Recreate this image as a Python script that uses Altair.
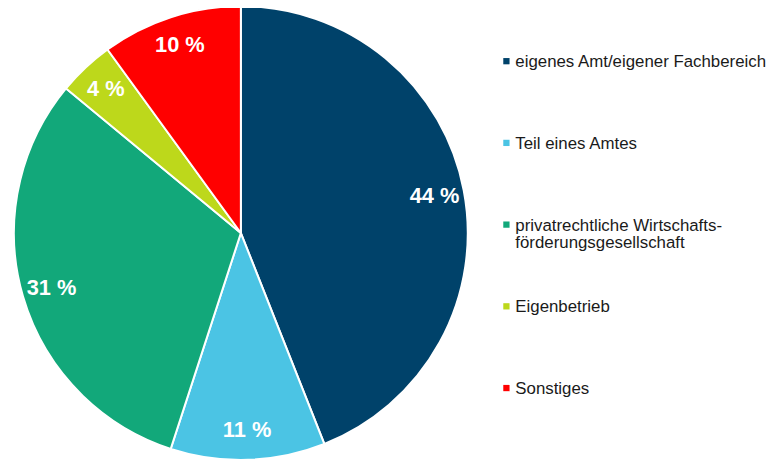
import altair as alt
import pandas as pd

categories = [
    "eigenes Amt/eigener Fachbereich",
    "Teil eines Amtes",
    "privatrechtliche Wirtschafts-\nförderungsgesellschaft",
    "Eigenbetrieb",
    "Sonstiges",
]
values = [44, 11, 31, 4, 10]
labels = ["44 %", "11 %", "31 %", "4 %", "10 %"]
colors = ["#00426A", "#4BC4E4", "#12A87A", "#BDD81B", "#FF0000"]

df = pd.DataFrame({
    "cat": categories,
    "val": values,
    "lab": labels,
    "idx": list(range(len(categories))),
})

color_scale = alt.Scale(domain=categories, range=colors)

base = alt.Chart(df).encode(
    theta=alt.Theta("val:Q", stack=True),
    order=alt.Order("idx:Q"),
    x=alt.value(235),
    y=alt.value(231),
)

arcs = base.mark_arc(outerRadius=229, stroke="white", strokeWidth=2).encode(
    color=alt.Color("cat:N", scale=color_scale, legend=None)
)

texts = base.mark_text(
    radius=199, font="Liberation Sans", fontSize=22, fontWeight="bold",
    color="white", align="center", baseline="middle"
).encode(text="lab:N")

pie = alt.layer(arcs, texts).properties(width=468, height=440)

ysc = alt.Scale(domain=categories, type="point", padding=0.698)

leg_sq = alt.Chart(df).mark_square(size=40, opacity=1).encode(
    y=alt.Y("cat:N", scale=ysc, axis=None, sort=categories),
    x=alt.value(35),
    color=alt.Color("cat:N", scale=color_scale, legend=None),
)

leg_tx = alt.Chart(df).mark_text(
    align="left", baseline="alphabetic", dy=6, lineBreak="\n", lineHeight=18,
    font="Liberation Sans", fontSize=17, color="#1a1a1a"
).encode(
    y=alt.Y("cat:N", scale=ysc, axis=None, sort=categories),
    x=alt.value(44),
    text="cat:N",
)

legend = alt.layer(leg_sq, leg_tx).properties(width=290, height=445)

chart = alt.hconcat(pie, legend, spacing=0).properties(
    padding={"top": -8, "left": 0, "right": 0, "bottom": 0}
).configure_view(stroke=None)

chart.save("out.html", embed_options={"renderer": "svg", "actions": False})
